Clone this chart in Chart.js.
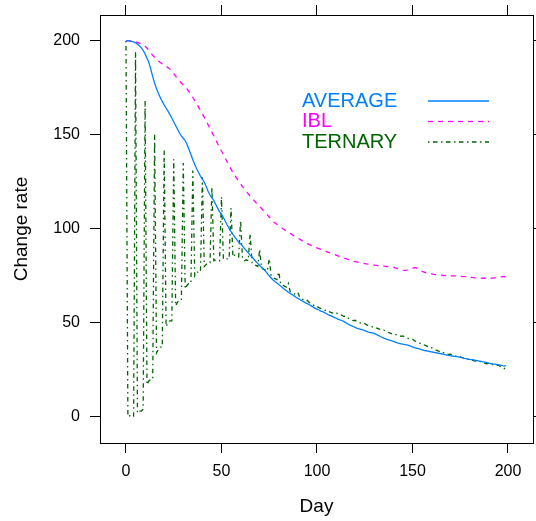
<!DOCTYPE html>
<html>
<head>
<meta charset="utf-8">
<script src="https://cdn.jsdelivr.net/npm/chart.js@4"></script>
<style>
  html, body { margin: 0; padding: 0; background: #fff; }
  #wrap { width: 536px; height: 521px; }
</style>
</head>
<body>
<div id="wrap"><canvas id="chart" width="536" height="521"></canvas></div>
<script>
const seriesNames = ["AVERAGE", "IBL", "TERNARY"];
const seriesColors = ["#0080ff", "#ff00ff", "#006400"];
const xTicks = [0, 50, 100, 150, 200];
const yTicks = [0, 50, 100, 150, 200];

// one value per day, day 0 .. 199
const days = Array.from({ length: 200 }, (_, i) => i);

const average = [
  200, 200, 200, 199.8, 199.5, 199, 198.3, 197.5, 196.3, 195,
  193, 190.8, 188.5, 185, 181, 177.5, 174.5, 172, 169.8, 167.8,
  166, 164.3, 162.6, 160.8, 159, 157, 155, 153, 151, 149.5,
  148.2, 147, 144.8, 142.2, 139.6, 136.8, 134.2, 132, 130, 128,
  126.5, 124.8, 122.5, 120, 118, 116.5, 115, 113, 111, 109,
  107.8, 106, 104, 102, 100.2, 98.5, 97, 95.6, 94.2, 93,
  92, 90.8, 89.6, 88.4, 87.2, 86, 85, 83.8, 82.6, 81.6,
  80.5, 79.5, 78.5, 77.5, 76.3, 75, 73.8, 72.8, 72, 71.2,
  70.4, 69.5, 68.6, 67.8, 67, 66.2, 65.6, 65, 64.3, 63.6,
  63, 62.4, 61.8, 61.2, 60.6, 60.2, 59.6, 59, 58.3, 57.6,
  57.2, 56.8, 56.2, 55.9, 55.4, 54.8, 54.2, 53.8, 53.4, 52.9,
  52.4, 51.9, 51.5, 51.2, 50.7, 50.1, 49.5, 48.9, 48.5, 48,
  47.5, 47, 46.8, 46.5, 46.2, 45.8, 45.4, 45, 44.8, 44.6,
  44.3, 43.8, 43.3, 42.8, 42.3, 41.8, 41.4, 41, 40.8, 40.5,
  40.1, 39.7, 39.3, 39, 38.8, 38.6, 38.4, 38.2, 38, 37.6,
  37.2, 36.8, 36.5, 36.2, 35.9, 35.6, 35.3, 35.1, 34.9, 34.7,
  34.5, 34.3, 34.1, 33.9, 33.7, 33.5, 33.3, 33, 32.8, 32.6,
  32.4, 32.3, 32.1, 32, 31.8, 31.6, 31.4, 31.1, 30.9, 30.7,
  30.5, 30.4, 30.2, 30, 29.8, 29.6, 29.4, 29.2, 29, 28.8,
  28.5, 28.3, 28.1, 28, 27.8, 27.6, 27.4, 27.2, 27.1, 27
];

const ibl = [
  200, 200, 200, 200, 199.8, 199.5, 199.2, 198.8, 198.3, 197.8,
  197.2, 196.2, 195, 193.7, 192.4, 191.2, 190.2, 189.3, 188.5, 187.8,
  187.2, 186.5, 185.8, 185, 183.9, 182.6, 181.3, 180, 178.8, 177.6,
  176.6, 175.6, 174.4, 173, 171.5, 169.9, 168.3, 166.6, 164.8, 163,
  161.2, 159.3, 157.4, 155.4, 153.4, 151.4, 149.4, 147.3, 145.3, 143.3,
  141.4, 139.6, 137.6, 135.6, 133.7, 131.8, 130, 128.4, 126.9, 125.4,
  124, 122.5, 121.2, 119.8, 118.6, 117.4, 116.3, 115.1, 114, 113,
  112, 110.8, 109.6, 108.5, 107.4, 106.3, 105, 103.9, 103.1, 102.4,
  101.7, 101, 100.2, 99.5, 98.8, 98.2, 97.6, 96.9, 96.2, 95.6,
  95, 94.5, 93.8, 93.2, 92.6, 92.1, 91.6, 91.2, 90.7, 90.2,
  89.8, 89.4, 89, 88.7, 88.3, 87.9, 87.5, 87.1, 86.8, 86.4,
  86, 85.6, 85.2, 84.8, 84.4, 84.1, 83.8, 83.5, 83.2, 82.8,
  82.5, 82.3, 82.1, 81.9, 81.7, 81.5, 81.3, 81.2, 81, 80.8,
  80.7, 80.5, 80.4, 80.3, 80.2, 80.1, 80, 79.9, 79.9, 79.8,
  79.6, 79.2, 78.9, 78.5, 78.2, 78, 77.9, 78, 78.2, 78.6,
  79, 79.3, 79.2, 78.7, 78.1, 77.4, 77, 76.6, 76.3, 76.1,
  76, 75.8, 75.6, 75.5, 75.4, 75.3, 75.2, 75.1, 75, 75,
  74.9, 74.9, 74.9, 74.9, 74.8, 74.7, 74.6, 74.5, 74.5, 74.3,
  74.2, 74.1, 74, 73.9, 73.9, 73.8, 73.8, 73.7, 73.7, 73.7,
  73.7, 73.7, 73.8, 73.9, 74, 74.1, 74.3, 74.5, 74.5, 74.3
];

const ternary = [
  200, 0, 0.5, 0.5, 0, 194, 2, 3, 3, 4,
  168, 17, 19, 20, 20, 150, 34, 36, 37, 37,
  142, 48, 50, 51, 51, 137, 59, 61, 62, 62,
  135, 68, 70, 71, 71, 131, 75, 77, 77, 77,
  127.5, 80, 81, 82, 82, 122.5, 83, 83.5, 83, 83,
  117, 84, 84.5, 84, 84, 111, 85, 86, 85.5, 85,
  104.5, 84, 83, 83.5, 83, 97.5, 82, 81, 80.5, 80,
  89, 79, 78.5, 78, 77.5, 84, 75, 74, 73.5, 73,
  77, 70.5, 70, 69.5, 69, 71, 66.5, 66, 65.5, 65,
  66, 63.5, 62.8, 62.2, 61.5, 61.8, 60.8, 60.2, 59.5, 58.8,
  58.8, 58, 57.6, 57.1, 56.6, 56.8, 56, 55.6, 55.3, 55,
  55.4, 54.6, 54.3, 54, 53.4, 53.5, 52.6, 52, 51.6, 51.1,
  51.3, 50.5, 50.2, 49.8, 49.4, 49.6, 48.9, 48.5, 48.2, 47.8,
  48, 47.3, 46.9, 46.5, 46, 46.1, 45.4, 45, 44.6, 44.2,
  44.4, 43.8, 43.5, 43.2, 42.8, 43, 42.4, 42, 41.6, 41.2,
  41.2, 40.5, 40, 39.5, 39, 39, 38.3, 37.8, 37.3, 36.8,
  36.7, 36, 35.6, 35.2, 34.8, 34.9, 34.2, 33.8, 33.5, 33.1,
  33.3, 32.7, 32.4, 32.1, 31.8, 32, 31.4, 31.1, 30.8, 30.5,
  30.7, 30.1, 29.9, 29.6, 29.3, 29.6, 29, 28.7, 28.4, 28.2,
  28.5, 27.9, 27.7, 27.5, 27.3, 27.4, 26.8, 26.2, 25.6, 26.5
];

const seriesValues = [average, ibl, ternary];
const seriesDash = [[], [5, 5], [1.5, 3.5, 4.5, 3.5]];

const FONT = "'Liberation Sans', Arial, Helvetica, sans-serif";

function toPoints(values) {
  return values.map((v, i) => ({ x: days[i], y: v }));
}

// lattice style key: label on the left, line sample on the right
const keyPlugin = {
  id: "key",
  afterDatasetsDraw(chart) {
    const ctx = chart.ctx;
    ctx.save();
    ctx.font = "20px " + FONT;
    ctx.textBaseline = "middle";
    ctx.textAlign = "left";
    chart.data.datasets.forEach((ds, i) => {
      const y = 101 + i * 20.5;
      ctx.fillStyle = ds.borderColor;
      ctx.fillText(ds.label, 302, y);
      ctx.strokeStyle = ds.borderColor;
      ctx.lineWidth = ds.borderWidth;
      ctx.setLineDash(ds.borderDash);
      ctx.beginPath();
      ctx.moveTo(428, y);
      ctx.lineTo(489, y);
      ctx.stroke();
    });
    ctx.restore();
  }
};

function fixedTicks(list) {
  return scale => { scale.ticks = list.map(v => ({ value: v })); };
}

function axis(position, list, min, max, size, extra) {
  const horizontal = position === "top" || position === "bottom";
  return Object.assign({
    type: "linear",
    position: position,
    min: min,
    max: max,
    afterBuildTicks: fixedTicks(list),
    afterFit: s => {
      if (horizontal) {
        s.height = size;
        s.paddingLeft = 0;
        s.paddingRight = 0;
      } else {
        s.width = size;
        s.paddingTop = 0;
        s.paddingBottom = 0;
      }
    },
    grid: {
      drawOnChartArea: false,
      drawTicks: true,
      tickLength: 10,
      tickColor: "#000",
      tickWidth: 1
    },
    border: { display: true, color: "#000", width: 1 },
    ticks: { display: false }
  }, extra || {});
}

const tickFont = { family: FONT, size: 16 };
const titleFont = { family: FONT, size: 19 };

new Chart(document.getElementById("chart"), {
  type: "line",
  data: {
    datasets: seriesNames.map((name, i) => ({
      label: name,
      data: toPoints(seriesValues[i]),
      borderColor: seriesColors[i],
      borderWidth: 1.3,
      borderDash: seriesDash[i],
      pointRadius: 0,
      tension: 0,
      fill: false
    }))
  },
  options: {
    responsive: false,
    animation: false,
    layout: { padding: 0 },
    plugins: {
      legend: { display: false },
      tooltip: { enabled: false }
    },
    scales: {
      x: axis("bottom", xTicks, -13.6, 213.1, 78, {
        ticks: { display: true, color: "#000", font: tickFont, padding: 9, maxRotation: 0 },
        title: { display: true, text: "Day", color: "#000", font: titleFont, padding: { top: 10, bottom: 3 } }
      }),
      xTop: axis("top", xTicks, -13.6, 213.1, 15),
      y: axis("left", yTicks, -14, 213.8, 100, {
        ticks: { display: true, color: "#000", font: tickFont, padding: 10 },
        title: { display: true, text: "Change rate", color: "#000", font: titleFont, padding: { top: 10, bottom: 10 } }
      }),
      yRight: axis("right", yTicks, -14, 213.8, 3)
    }
  },
  plugins: [keyPlugin]
});
</script>
</body>
</html>
